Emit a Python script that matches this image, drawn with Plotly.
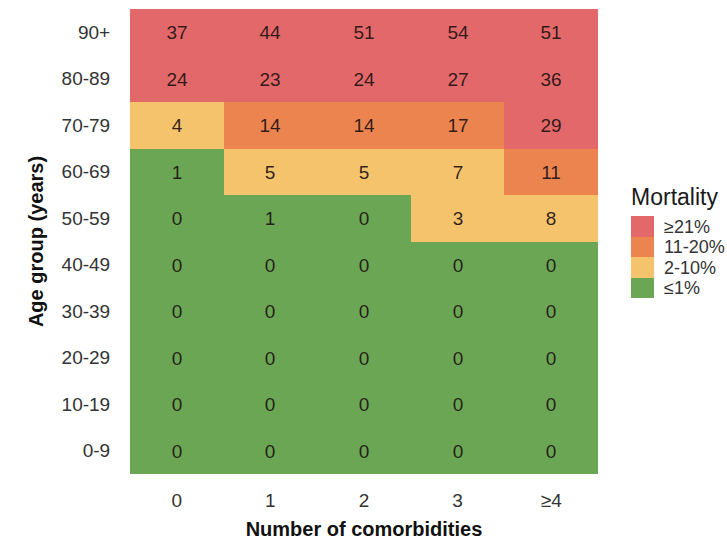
import plotly.graph_objects as go

# Age groups (bottom to top) and comorbidity counts
age_groups = ["0-9", "10-19", "20-29", "30-39", "40-49",
              "50-59", "60-69", "70-79", "80-89", "90+"]
comorbidities = ["0", "1", "2", "3", "≥4"]

# Mortality (%) per age group, one list per row
mort_0_9 = [0, 0, 0, 0, 0]
mort_10_19 = [0, 0, 0, 0, 0]
mort_20_29 = [0, 0, 0, 0, 0]
mort_30_39 = [0, 0, 0, 0, 0]
mort_40_49 = [0, 0, 0, 0, 0]
mort_50_59 = [0, 1, 0, 3, 8]
mort_60_69 = [1, 5, 5, 7, 11]
mort_70_79 = [4, 14, 14, 17, 29]
mort_80_89 = [24, 23, 24, 27, 36]
mort_90 = [37, 44, 51, 54, 51]

mortality = [mort_0_9, mort_10_19, mort_20_29, mort_30_39, mort_40_49,
             mort_50_59, mort_60_69, mort_70_79, mort_80_89, mort_90]

band_labels = ["≤1%", "2-10%", "11-20%", "≥21%"]
band_colors = ["#6AA654", "#F6C36D", "#EB844F", "#E36869"]


def band(v):
    if v <= 1:
        return 0
    if v <= 10:
        return 1
    if v <= 20:
        return 2
    return 3


z = [[band(v) for v in row] for row in mortality]
text = [[str(v) for v in row] for row in mortality]

# Discrete colorscale: one flat step per band
n = len(band_colors)
colorscale = []
for i, c in enumerate(band_colors):
    colorscale.append([i / n, c])
    colorscale.append([(i + 1) / n, c])

FONT = "Liberation Sans, Arial, sans-serif"

fig = go.Figure(
    go.Heatmap(
        x=comorbidities,
        y=age_groups,
        z=z,
        text=text,
        texttemplate="%{text}",
        textfont=dict(family=FONT, size=19, color="rgba(30,18,18,0.92)"),
        colorscale=colorscale,
        zmin=-0.5,
        zmax=n - 0.5,
        hoverinfo="skip",
        colorbar=dict(
            title=dict(text="Mortality", side="top",
                       font=dict(family=FONT, size=23, color="#1a1a1a")),
            tickvals=list(range(n)),
            ticktext=band_labels,
            tickfont=dict(family=FONT, size=18, color="#333333"),
            ticks="outside",
            ticklen=7,
            tickcolor="rgba(0,0,0,0)",
            outlinewidth=0,
            thickness=23,
            thicknessmode="pixels",
            len=113,
            lenmode="pixels",
            x=1.0707,
            xanchor="left",
            xpad=0,
            y=0.3785,
            yanchor="bottom",
            ypad=0,
        ),
    )
)

fig.update_layout(
    width=727,
    height=542,
    margin=dict(l=130, r=129, t=9, b=68, autoexpand=False),
    paper_bgcolor="white",
    plot_bgcolor="white",
    font=dict(family=FONT, color="#333333"),
)

fig.update_xaxes(
    type="category",
    showgrid=False,
    zeroline=False,
    ticks="outside",
    ticklen=9,
    tickcolor="rgba(0,0,0,0)",
    tickfont=dict(family=FONT, size=19, color="#333333"),
    title=dict(text="<b>Number of comorbidities</b>", standoff=12,
               font=dict(family=FONT, size=20, color="#111111")),
)
fig.update_yaxes(
    type="category",
    showgrid=False,
    zeroline=False,
    ticks="outside",
    ticklen=15,
    tickcolor="rgba(0,0,0,0)",
    tickfont=dict(family=FONT, size=19, color="#333333"),
    title=dict(text="<b>Age group (years)</b>", standoff=12,
               font=dict(family=FONT, size=20, color="#111111")),
)

fig.write_html("out.html")
